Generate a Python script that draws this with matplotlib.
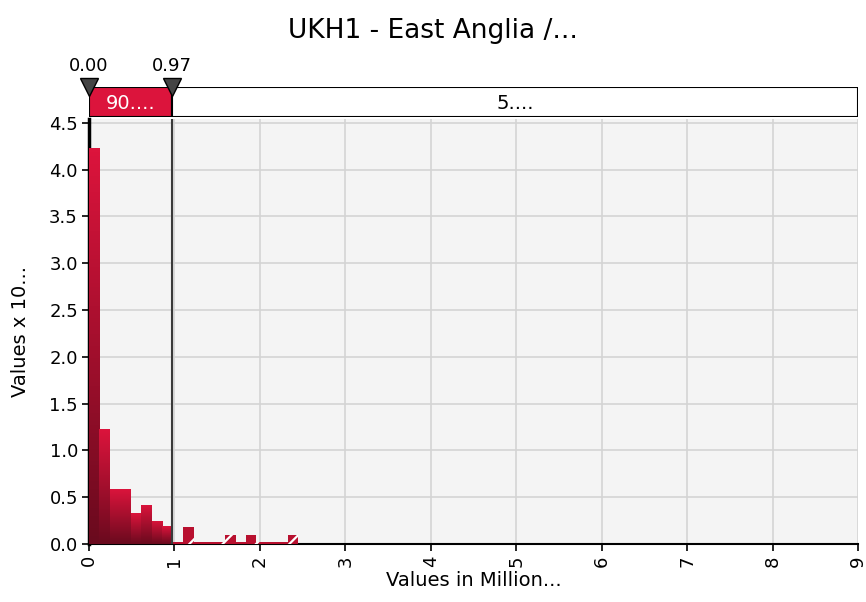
import numpy as np
import matplotlib
matplotlib.use("Agg")
import matplotlib.pyplot as plt
from matplotlib.colors import LinearSegmentedColormap

# data
bin_width = 0.1225
counts = [4.23, 1.23, 0.59, 0.59, 0.33, 0.42, 0.25, 0.19,
          0.02, 0.18, 0.02, 0.02, 0.02, 0.10, 0.02, 0.10,
          0.02, 0.02, 0.02, 0.10]
threshold = 0.97
band_labels = ["90....", "5...."]
marker_labels = ["0.00", "0.97"]
marker_pos = [0.0, threshold]

plt.rcParams['font.family'] = ['DejaVu Sans']
plt.rcParams['hatch.linewidth'] = 1.6

crimson = '#dc143c'
grad = LinearSegmentedColormap.from_list("g", ['#6a0a1e', crimson])

fig = plt.figure(figsize=(8.66, 6.02), dpi=100)
ax = fig.add_axes([0.1028, 0.0963, 0.888, 0.706])
ax.set_facecolor('#f4f4f4')

lefts = np.arange(len(counts)) * bin_width
for i, (x, h) in enumerate(zip(lefts, counts)):
    if x + 1e-9 < threshold:
        b = ax.bar(x, h, width=bin_width, align='edge', color=crimson, linewidth=0, zorder=2)[0]
        im = ax.imshow(np.linspace(0, 1, 100).reshape(-1, 1), cmap=grad, origin='lower',
                       extent=[x, x + bin_width, 0, h], aspect='auto', zorder=3)
        im.set_clip_path(b)
    else:
        ax.bar(x, h, width=bin_width, align='edge', color='#b8102f', edgecolor='white',
               hatch='/', linewidth=0, zorder=3)

ax.axvline(threshold, color='#3a3a3a', lw=1.5, zorder=4)

ax.set_xlim(0, 9)
ax.set_ylim(0, 4.54)
ax.set_xticks(range(10))
ax.set_yticks(np.arange(0, 4.51, 0.5))
ax.set_yticklabels([f"{v:.1f}" for v in np.arange(0, 4.51, 0.5)])
ax.tick_params(axis='x', labelrotation=90, labelsize=13, length=5, width=1.2, pad=3)
ax.tick_params(axis='y', labelsize=13, length=5, width=1.2, pad=3)
ax.grid(True, color='#d4d4d4', lw=1.2, zorder=0)
ax.set_axisbelow(True)
for s in ['top', 'right']:
    ax.spines[s].set_visible(False)
ax.spines['left'].set_linewidth(2.5)
ax.spines['bottom'].set_linewidth(1.5)
ax.set_xlabel("Values in Million...", fontsize=14, labelpad=3)
ax.set_ylabel("Values x 10...", fontsize=14, labelpad=14)

# band above the plot
bx = fig.add_axes([0.1028, 1 - 116.7 / 602, 0.888, 30 / 602])
bx.set_xlim(0, 9)
bx.set_ylim(0, 1)
bx.axis('off')
bx.barh(0.5, threshold, left=0, height=1, color=crimson, edgecolor='black', lw=1.5)
bx.barh(0.5, 9 - threshold, left=threshold, height=1, color='white', edgecolor='black', lw=1.5)
bx.text(threshold / 2, 0.45, band_labels[0], color='white', ha='center', va='center', fontsize=14)
bx.text((threshold + 9) / 2, 0.45, band_labels[1], color='black', ha='center', va='center', fontsize=14)
for p, lab in zip(marker_pos, marker_labels):
    bx.plot(p, 1.0, marker='v', ms=13, color='#444444', mec='black', mew=1, clip_on=False, zorder=5)
    bx.text(p, 1.4, lab, ha='center', va='bottom', fontsize=13)

fig.suptitle("UKH1 - East Anglia /...", fontsize=19, y=0.97)

fig.savefig("out.png", dpi=100)
